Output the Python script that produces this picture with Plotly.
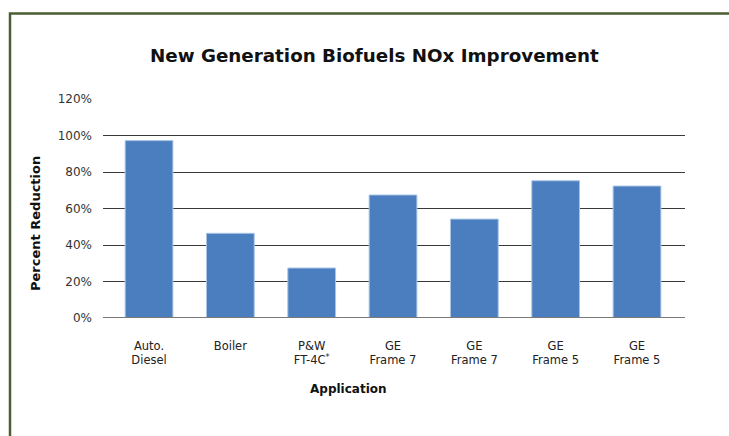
import plotly.graph_objects as go

categories = ["Auto.<br>Diesel", "Boiler", "P&W<br>FT-4C<sup>*</sup>", "GE<br>Frame 7", "GE<br>Frame 7", "GE<br>Frame 5", "GE<br>Frame 5"]
reduction = [97.2, 46.4, 27.4, 67.4, 54.2, 75.2, 72.3]
ytick_vals = [0, 20, 40, 60, 80, 100, 120]
ytick_text = ["0%", "20%", "40%", "60%", "80%", "100%", "120%"]

W, H = 729, 436
L, R, T, B = 103, 729 - 685, 99, 436 - 318
pw, ph = W - L - R, H - T - B


def px_x(p):
    return (p - L) / pw


def px_y(p):
    return (H - B - p) / ph


fig = go.Figure()
fig.add_trace(go.Bar(
    x=list(range(len(categories))), y=reduction, width=0.587,
    marker=dict(color="#4a7ebf", line=dict(color="#a9c4e6", width=1)),
))

FONT = "DejaVu Sans"
fig.update_layout(
    width=W, height=H, margin=dict(l=L, r=R, t=T, b=B, autoexpand=False),
    paper_bgcolor="white", plot_bgcolor="white", showlegend=False,
    font=dict(family=FONT, color="#222", size=12),
    xaxis=dict(tickmode="array", tickvals=list(range(len(categories))), ticktext=categories,
               range=[-0.566, 6.59], showgrid=False, zeroline=False, showline=False,
               ticks="", ticklabelstandoff=19, automargin=False,
               tickfont=dict(size=11.5, color="#222")),
    yaxis=dict(range=[0, 120], tickmode="array", tickvals=ytick_vals, ticktext=ytick_text,
               showgrid=True, gridcolor="#3a3a3a", gridwidth=1, zeroline=False, showline=False,
               ticks="", ticklabelstandoff=10, automargin=False,
               tickfont=dict(size=12, color="#333")),
)

# titles as annotations for exact placement
fig.add_annotation(text="<b>New Generation Biofuels NOx Improvement</b>", xref="paper", yref="paper",
                   x=px_x(374), y=px_y(55), xanchor="center", yanchor="middle", showarrow=False,
                   font=dict(size=18.3, color="#111", family=FONT))
fig.add_annotation(text="<b>Application</b>", xref="paper", yref="paper",
                   x=px_x(348), y=px_y(389), xanchor="center", yanchor="middle", showarrow=False,
                   font=dict(size=12, color="#111", family=FONT))
fig.add_annotation(text="<b>Percent Reduction</b>", xref="paper", yref="paper",
                   x=px_x(35), y=px_y(224), xanchor="center", yanchor="middle", showarrow=False,
                   textangle=-90, font=dict(size=13, color="#111", family=FONT))

# baseline (0%) line slightly lighter gray
fig.add_shape(type="line", xref="paper", yref="y", x0=0, x1=1, y0=0, y1=0,
              line=dict(color="#7a7a7a", width=2), layer="above")

# outer dark green frame (extends off-canvas on the right and bottom)
fig.add_shape(type="rect", xref="paper", yref="paper",
              x0=px_x(10), x1=px_x(760), y0=px_y(480), y1=px_y(13.5),
              line=dict(color="#4b5e33", width=2.5), fillcolor="rgba(0,0,0,0)", layer="below")

fig.write_html("out.html", config={"displayModeBar": False},
               post_script="document.body.style.margin='0';document.body.style.padding='0';")
